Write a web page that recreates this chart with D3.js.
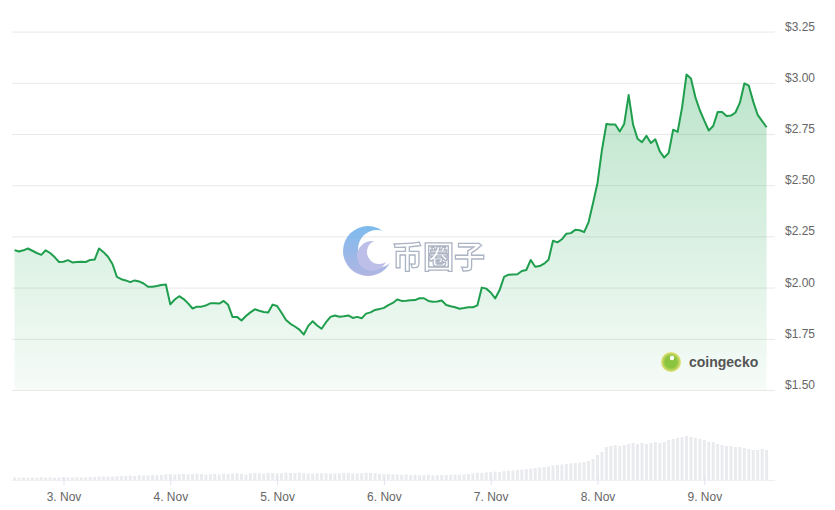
<!DOCTYPE html>
<html>
<head>
<meta charset="utf-8">
<script src="https://cdn.jsdelivr.net/npm/d3@7"></script>
<style>
  body { margin: 0; background: #fff; }
  svg { display: block; font-family: "Liberation Sans", Arial, sans-serif; }
</style>
</head>
<body>
<svg id="chart" width="835" height="510"></svg>
<script>
// hourly series, first point 2. Nov 13:00 UTC
const startTime = Date.UTC(2024, 10, 2, 13);

const prices = [
  2.183, 2.176, 2.182, 2.191, 2.180, 2.169, 2.160, 2.182, 2.169, 2.149,
  2.125, 2.126, 2.134, 2.123, 2.125, 2.126, 2.125, 2.135, 2.137, 2.191,
  2.173, 2.151, 2.115, 2.052, 2.041, 2.035, 2.027, 2.035, 2.030, 2.020,
  2.004, 2.004, 2.008, 2.013, 2.015, 1.918, 1.942, 1.958, 1.944, 1.923,
  1.898, 1.907, 1.907, 1.913, 1.923, 1.923, 1.922, 1.935, 1.916, 1.856,
  1.857, 1.839, 1.861, 1.879, 1.894, 1.887, 1.881, 1.879, 1.917, 1.910,
  1.877, 1.842, 1.823, 1.810, 1.795, 1.771, 1.813, 1.836, 1.815, 1.799,
  1.831, 1.857, 1.864, 1.858, 1.860, 1.864, 1.852, 1.857, 1.850, 1.873,
  1.879, 1.891, 1.895, 1.901, 1.914, 1.925, 1.942, 1.935, 1.936, 1.938,
  1.939, 1.948, 1.948, 1.935, 1.931, 1.932, 1.937, 1.915, 1.909, 1.904,
  1.897, 1.900, 1.904, 1.904, 1.913, 2.000, 1.995, 1.976, 1.947, 1.988,
  2.052, 2.063, 2.064, 2.065, 2.081, 2.086, 2.135, 2.102, 2.105, 2.117,
  2.136, 2.229, 2.221, 2.236, 2.263, 2.266, 2.282, 2.280, 2.271, 2.320,
  2.413, 2.511, 2.672, 2.799, 2.796, 2.796, 2.762, 2.799, 2.940, 2.796,
  2.727, 2.710, 2.741, 2.706, 2.724, 2.665, 2.635, 2.658, 2.771, 2.760,
  2.879, 3.040, 3.021, 2.929, 2.866, 2.815, 2.767, 2.789, 2.857, 2.857,
  2.838, 2.840, 2.855, 2.903, 2.997, 2.986, 2.908, 2.843, 2.813, 2.783
];

// volume in $M
const volumes = [
  2.5, 2.4, 2.6, 2.3, 2.5, 2.2, 2.8, 2.4, 2.6, 2.3, 2.5,
  3.0, 2.4, 2.6, 2.8, 2.5, 2.7, 3.0, 2.9, 3.6, 3.4, 3.2, 3.5, 3.8, 4.0,
  4.2, 4.5, 4.0, 4.8, 4.4, 4.6, 5.0, 4.7, 5.2, 5.8, 6.0, 5.5, 5.8, 6.2, 5.6, 5.9, 6.3, 6.0, 5.4, 5.8, 6.1, 5.5, 6.4, 6.0,
  6.5, 6.8, 6.2, 5.5, 6.6, 7.0, 6.8, 6.4, 7.2, 7.0, 6.6, 6.9, 7.4, 7.1, 6.8, 7.3, 6.9, 6.5, 6.2, 6.8, 7.0, 6.6, 6.3, 6.5,
  6.8, 7.2, 7.0, 6.6, 6.4, 6.9, 7.3, 7.0, 6.7, 6.2, 5.8, 6.0, 5.6, 5.5, 5.2, 5.6, 5.0, 5.3, 4.8, 5.0, 5.2, 4.6, 4.9, 5.0,
  5.0, 5.2, 5.5, 5.1, 5.6, 6.0, 6.6, 7.2, 7.0, 7.6, 8.0, 8.4, 8.0, 8.8, 9.2, 9.6, 10.0, 10.4, 11.0, 11.4, 12.0, 12.6, 13.0, 13.6,
  14.5, 15.0, 15.5, 16.0, 16.6, 17.0, 17.5, 18.0, 19.0, 21.0, 25.0, 28.0,
  33, 34, 35, 34, 35, 36, 37, 36, 37, 36, 37, 38,
  37, 38, 40, 41, 42, 43, 44, 43, 42, 41, 40, 38,
  38, 36, 35, 34, 34, 33, 33, 32, 31, 30, 30, 31, 30
];

const priceTicks = [1.5, 1.75, 2.0, 2.25, 2.5, 2.75, 3.0, 3.25];

const data = prices.map((p, i) => ({
  t: new Date(startTime + i * 3600e3),
  price: p,
  vol: volumes[i]
}));

const svg = d3.select("#chart");
const left = 12, right = 775;

const x = d3.scaleUtc()
  .domain([new Date(Date.UTC(2024, 10, 3)), new Date(Date.UTC(2024, 10, 9))])
  .range([63.5, 704.3]);

const y = d3.scaleLinear()
  .domain([1.5, 3.25])
  .range([390, 31.6]);

const yVol = d3.scaleLinear()
  .domain([0, 44])
  .range([480, 436]);

// gradient for the area
const defs = svg.append("defs");
const grad = defs.append("linearGradient")
  .attr("id", "areaFill")
  .attr("gradientUnits", "userSpaceOnUse")
  .attr("x1", 0).attr("x2", 0)
  .attr("y1", y(d3.max(prices))).attr("y2", y(1.5));
grad.append("stop").attr("offset", "0%").attr("stop-color", "#1fa650").attr("stop-opacity", 0.3);
grad.append("stop").attr("offset", "100%").attr("stop-color", "#1fa650").attr("stop-opacity", 0.04);

// Y grid + labels
const yAxis = svg.append("g")
  .attr("transform", `translate(${right},0)`)
  .call(d3.axisRight(y)
    .tickValues(priceTicks)
    .tickSize(-(right - left))
    .tickPadding(10)
    .tickFormat(d => "$" + d3.format(".2f")(d)));
yAxis.select(".domain").remove();
yAxis.selectAll("line").attr("stroke", "#e9e9e9");
yAxis.selectAll("text")
  .attr("dy", "-0.12em")
  .style("font-size", "12px")
  .style("fill", "#666");

// volume bars
svg.append("g")
  .selectAll("rect")
  .data(data)
  .enter()
  .append("rect")
  .attr("x", d => x(d.t) - 1.5)
  .attr("y", d => yVol(d.vol))
  .attr("width", 3)
  .attr("height", d => yVol(0) - yVol(d.vol))
  .attr("fill", "#e9ebee");

// X axis
const xAxis = svg.append("g")
  .attr("transform", "translate(0,480)")
  .call(d3.axisBottom(x)
    .ticks(d3.utcDay.every(1))
    .tickSize(5)
    .tickPadding(7)
    .tickFormat(d3.utcFormat("%-d. %b")));
xAxis.select(".domain")
  .attr("d", `M${left},0.5H${right}`)
  .attr("stroke", "#eef0f3");
xAxis.selectAll(".tick line").attr("stroke", "#dde3ee").attr("y1", -3);
xAxis.selectAll("text")
  .style("font-size", "12px")
  .style("fill", "#666");

// watermark
const wm = svg.append("g").attr("opacity", 0.9);
const wmGrad = defs.append("linearGradient")
  .attr("id", "wmFill").attr("x1", 0).attr("x2", 0).attr("y1", 0).attr("y2", 1);
wmGrad.append("stop").attr("offset", "0%").attr("stop-color", "#6fb4ec");
wmGrad.append("stop").attr("offset", "100%").attr("stop-color", "#a9aee0");
const mask1 = defs.append("mask").attr("id", "wmMask1");
mask1.append("rect").attr("x", 330).attr("y", 215).attr("width", 80).attr("height", 70).attr("fill", "#fff");
mask1.append("circle").attr("cx", 377).attr("cy", 249).attr("r", 19).attr("fill", "#000");
wm.append("circle")
  .attr("cx", 368).attr("cy", 251).attr("r", 25)
  .attr("fill", "url(#wmFill)")
  .attr("mask", "url(#wmMask1)");
const mask2 = defs.append("mask").attr("id", "wmMask2");
mask2.append("rect").attr("x", 330).attr("y", 215).attr("width", 80).attr("height", 70).attr("fill", "#fff");
mask2.append("circle").attr("cx", 379).attr("cy", 252).attr("r", 12).attr("fill", "#000");
wm.append("circle")
  .attr("cx", 372).attr("cy", 256).attr("r", 15)
  .attr("fill", "#b7b9e6")
  .attr("mask", "url(#wmMask2)");
wm.append("text")
  .attr("x", 392)
  .attr("y", 268)
  .style("font-family", "'Noto Sans CJK SC', sans-serif")
  .style("font-size", "31px")
  .style("font-weight", "700")
  .style("fill", "#fff")
  .style("stroke", "#a3acbd")
  .style("stroke-width", 1.3)
  .text("币圈子");

// price area + line
svg.append("path")
  .datum(data)
  .attr("fill", "url(#areaFill)")
  .attr("d", d3.area()
    .x(d => x(d.t))
    .y0(y(1.5))
    .y1(d => y(d.price)));

svg.append("path")
  .datum(data)
  .attr("fill", "none")
  .attr("stroke", "#1f9e4d")
  .attr("stroke-width", 2)
  .attr("stroke-linejoin", "round")
  .attr("d", d3.line()
    .x(d => x(d.t))
    .y(d => y(d.price)));

// coingecko badge
const cg = svg.append("g");
const cgGrad = defs.append("radialGradient").attr("id", "cgFill");
cgGrad.append("stop").attr("offset", "60%").attr("stop-color", "#8bc53f");
cgGrad.append("stop").attr("offset", "100%").attr("stop-color", "#e9e27a");
cg.append("circle")
  .attr("cx", 671).attr("cy", 362).attr("r", 10)
  .attr("fill", "url(#cgFill)");
cg.append("circle")
  .attr("cx", 672).attr("cy", 358).attr("r", 2.2)
  .attr("fill", "#fff");
cg.append("text")
  .attr("x", 689)
  .attr("y", 367)
  .style("font-size", "14px")
  .style("font-weight", "700")
  .style("fill", "#555")
  .text("coingecko");
</script>
</body>
</html>
